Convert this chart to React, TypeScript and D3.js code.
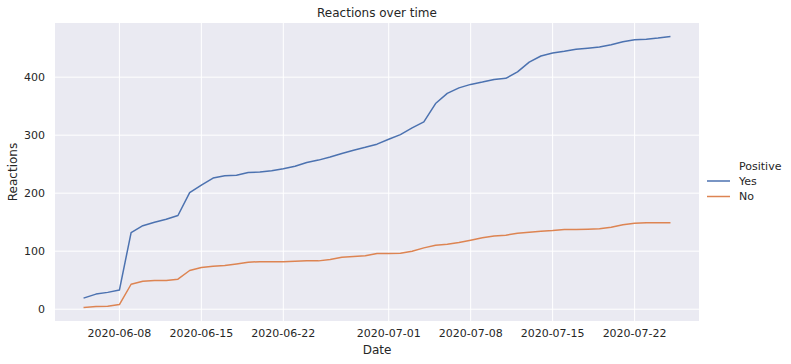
import React from "react";
import * as d3 from "d3";

const startDate = "2020-06-05";
const yesValues = [
  19.5, 26, 29, 33, 132, 144, 150, 155, 161.5, 201, 214, 226, 230, 231, 235.5, 236.5, 238.5,
  242, 246.5, 253, 257, 262.5, 268.5, 274, 279, 284.5, 293, 301, 312.5, 323, 354.5, 372,
  381.5, 387.5, 391.5, 396, 398, 409, 426, 436.5, 441.5, 444.5, 448, 450, 452, 456, 461,
  464.5, 465.5, 467.5, 470,
];
const noValues = [
  3, 4.5, 5, 8, 43, 48, 49.4, 49.4, 51.7, 66.7, 72, 74, 75.3, 78, 81, 82, 82, 82, 82.8, 83.3,
  83.3, 85.6, 89.6, 90.8, 92, 96, 96, 96.5, 100, 105.7, 110.3, 112, 115, 119, 123, 126,
  127.6, 131, 132.8, 134.5, 135.7, 137.4, 137.4, 138, 138.5, 141.4, 145.4, 148.3, 149, 149,
  149,
];
const seriesNames = ["Yes", "No"];
const seriesColors = ["#4C72B0", "#DD8452"];
const xTickLabels = ["2020-06-08", "2020-06-15", "2020-06-22", "2020-07-01", "2020-07-08", "2020-07-15", "2020-07-22"];
const yTickValues = [0, 100, 200, 300, 400];

const W = 791;
const H = 364;
const left = 55;
const right = 699;
const top = 23;
const bottom = 321;
const textColor = "#262626";
const font = "'DejaVu Sans', sans-serif";

const parse = d3.utcParse("%Y-%m-%d");

export default function App() {
  const start = parse(startDate)!;
  const dates = yesValues.map((_, i) => d3.utcDay.offset(start, i));
  const t0 = +dates[0];
  const t1 = +dates[dates.length - 1];
  const xPad = (t1 - t0) * 0.05;
  const x = d3.scaleUtc().domain([new Date(t0 - xPad), new Date(t1 + xPad)]).range([left, right]);
  const all = [...yesValues, ...noValues];
  const mn = d3.min(all)!;
  const mx = d3.max(all)!;
  const yPad = (mx - mn) * 0.05;
  const y = d3.scaleLinear().domain([mn - yPad, mx + yPad]).range([bottom, top]);
  const line = d3
    .line<number>()
    .x((_, i) => x(dates[i]))
    .y((v) => y(v));
  const series = [yesValues, noValues];
  const cx = (left + right) / 2;

  return (
    <svg width={W} height={H} style={{ position: "absolute", left: 0, top: 0 }} fontFamily={font}>
      <rect x={0} y={0} width={W} height={H} fill="#ffffff" />
      <rect x={left} y={top} width={right - left} height={bottom - top} fill="#EAEAF2" />
      {xTickLabels.map((s) => {
        const xx = x(parse(s)!);
        return (
          <g key={s}>
            <line x1={xx} x2={xx} y1={top} y2={bottom} stroke="#fff" strokeWidth={1} />
            <text x={xx} y={337} textAnchor="middle" fontSize={11} fill={textColor}>
              {s}
            </text>
          </g>
        );
      })}
      {yTickValues.map((v) => {
        const yy = y(v);
        return (
          <g key={v}>
            <line x1={left} x2={right} y1={yy} y2={yy} stroke="#fff" strokeWidth={1} />
            <text x={45} y={yy} dy="0.35em" textAnchor="end" fontSize={11} fill={textColor}>
              {v}
            </text>
          </g>
        );
      })}
      {series.map((vals, i) => (
        <path
          key={seriesNames[i]}
          d={line(vals) || ""}
          fill="none"
          stroke={seriesColors[i]}
          strokeWidth={1.5}
          strokeLinejoin="round"
          strokeLinecap="square"
        />
      ))}
      <text x={cx} y={17} textAnchor="middle" fontSize={12} fill={textColor}>
        Reactions over time
      </text>
      <text x={cx} y={354} textAnchor="middle" fontSize={12} fill={textColor}>
        Date
      </text>
      <text
        transform={`translate(17, ${(top + bottom) / 2}) rotate(-90)`}
        textAnchor="middle"
        fontSize={12}
        fill={textColor}
      >
        Reactions
      </text>
      <text x={739} y={170} fontSize={11} fill={textColor}>
        Positive
      </text>
      {seriesNames.map((n, i) => {
        const ly = 181 + i * 15.5;
        return (
          <g key={n}>
            <line x1={707} x2={730} y1={ly} y2={ly} stroke={seriesColors[i]} strokeWidth={1.5} />
            <text x={739} y={ly} dy="0.35em" fontSize={11} fill={textColor}>
              {n}
            </text>
          </g>
        );
      })}
    </svg>
  );
}
